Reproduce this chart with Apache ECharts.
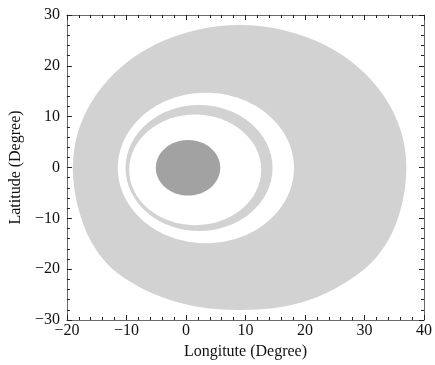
<!DOCTYPE html>
<html>
<head>
<meta charset="utf-8">
<script src="https://cdn.jsdelivr.net/npm/echarts@6/dist/echarts.min.js"></script>
<style>
html, body { margin: 0; padding: 0; background: #fff; }
#chart { width: 435px; height: 365px; }
</style>
</head>
<body>
<div id="chart"></div>
<script>
// outer region outline (lon, lat), clockwise from the west edge
var outerLon = [-19.01, -18.06, -15.27, -10.81, -5.0, 1.77, 9.02, 16.26, 23.03, 28.84, 33.30, 36.09, 37.04, 36.22, 33.92, 29.81, 23.24, 16.50, 9.02, 1.70, -5.37, -11.94, -15.89, -18.19];
var outerLat = [0.0, 7.26, 14.02, 19.83, 24.28, 27.07, 28.03, 27.07, 24.28, 19.83, 14.02, 7.26, 0.0, -7.58, -14.46, -20.17, -24.89, -27.35, -28.04, -27.35, -24.89, -20.36, -14.66, -7.58];

// inner ellipses, drawn in this order on top of the outer region
var ringName = ['hole', 'ring', 'ringInner', 'core'];
var ringLon  = [3.35, 2.2, 1.55, 0.35];
var ringLat  = [-0.1, -0.1, -0.45, -0.05];
var ringRLon = [14.8, 12.35, 11.1, 5.42];
var ringRLat = [14.8, 12.4, 10.9, 5.48];
var ringFill = ['#ffffff', '#d2d2d2', '#ffffff', '#a2a2a2'];

var xTicks = { min: -20, max: 40, interval: 10 };
var yTicks = { min: -30, max: 30, interval: 10 };

function fmt(v) { return v < 0 ? '\u2212' + Math.abs(v) : String(v); }

var chart = echarts.init(document.getElementById('chart'));
var axisColor = '#6a6a6a';
var font = 'Liberation Serif, Times New Roman, serif';

function axisBase(extra) {
    var a = {
        type: 'value',
        axisLine: { show: true, onZero: false, lineStyle: { color: axisColor, width: 1 } },
        axisTick: { show: true, inside: true, length: 5, lineStyle: { color: '#222' } },
        minorTick: { show: true, splitNumber: 5, length: 3, lineStyle: { color: '#222' } },
        splitLine: { show: false },
        axisLabel: { show: false }
    };
    for (var k in extra) a[k] = extra[k];
    return a;
}

// closed smooth outline through the points (catmull-rom as cubic beziers)
function closedPath(pts) {
    var n = pts.length, d = 'M' + pts[0][0] + ',' + pts[0][1];
    for (var i = 0; i < n; i++) {
        var p0 = pts[(i - 1 + n) % n], p1 = pts[i], p2 = pts[(i + 1) % n], p3 = pts[(i + 2) % n];
        var c1 = [p1[0] + (p2[0] - p0[0]) / 6, p1[1] + (p2[1] - p0[1]) / 6];
        var c2 = [p2[0] - (p3[0] - p1[0]) / 6, p2[1] - (p3[1] - p1[1]) / 6];
        d += 'C' + c1[0] + ',' + c1[1] + ',' + c2[0] + ',' + c2[1] + ',' + p2[0] + ',' + p2[1];
    }
    return d + 'Z';
}

var ellData = ringName.map(function (n, i) { return [ringLon[i], ringLat[i], ringRLon[i], ringRLat[i], i]; });

var option = {
    animation: false,
    backgroundColor: '#fff',
    textStyle: { fontFamily: font },
    grid: { left: 63, right: 7, top: 15, bottom: 45, containLabel: false },
    xAxis: [
        axisBase({
            min: xTicks.min, max: xTicks.max, interval: xTicks.interval, position: 'bottom',
            name: 'Longitute (Degree)', nameLocation: 'middle', nameGap: 24,
            nameTextStyle: { fontFamily: font, fontSize: 16, color: '#111' },
            axisLabel: { show: true, margin: 3, fontFamily: font, fontSize: 16, color: '#111', formatter: fmt }
        }),
        axisBase({ min: xTicks.min, max: xTicks.max, interval: xTicks.interval, position: 'top' })
    ],
    yAxis: [
        axisBase({
            min: yTicks.min, max: yTicks.max, interval: yTicks.interval, position: 'left',
            name: 'Latitude (Degree)', nameLocation: 'middle', nameGap: 37,
            nameTextStyle: { fontFamily: font, fontSize: 16, color: '#111' },
            axisLabel: { show: true, margin: 7, fontFamily: font, fontSize: 16, color: '#111', formatter: fmt }
        }),
        axisBase({ min: yTicks.min, max: yTicks.max, interval: yTicks.interval, position: 'right' })
    ],
    series: [
        {
            type: 'custom',
            xAxisIndex: 0, yAxisIndex: 0,
            data: [0],
            renderItem: function (params, api) {
                var pts = outerLon.map(function (v, i) { return api.coord([v, outerLat[i]]); });
                return {
                    type: 'path',
                    shape: { pathData: closedPath(pts) },
                    style: { fill: '#d2d2d2' }
                };
            },
            z: 1
        },
        {
            type: 'custom',
            xAxisIndex: 0, yAxisIndex: 0,
            data: ellData,
            renderItem: function (params, api) {
                var c = api.coord([api.value(0), api.value(1)]);
                var s = api.size([api.value(2), api.value(3)]);
                return {
                    type: 'ellipse',
                    shape: { cx: c[0], cy: c[1], rx: s[0], ry: s[1] },
                    style: { fill: ringFill[api.value(4)] }
                };
            },
            z: 2
        }
    ]
};
chart.setOption(option);
</script>
</body>
</html>
